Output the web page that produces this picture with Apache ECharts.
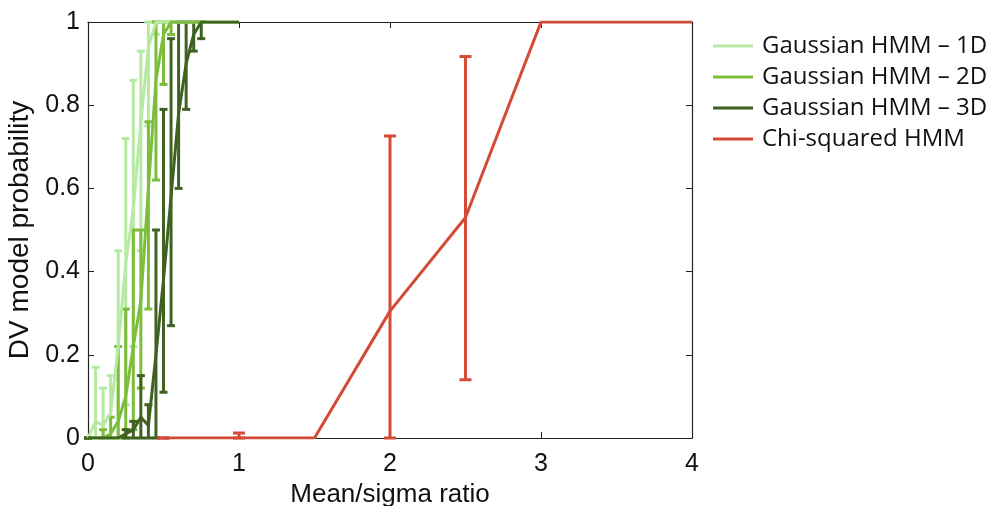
<!DOCTYPE html>
<html>
<head>
<meta charset="utf-8">
<script src="https://cdn.jsdelivr.net/npm/echarts@6/dist/echarts.min.js"></script>
<style>
  html, body { margin: 0; padding: 0; background: #fff; }
  #chart { width: 994px; height: 506px; }
</style>
</head>
<body>
<div id="chart"></div>
<script>
// ==============================
// 数据
// ==============================
const seriesNames = ['Gaussian HMM – 1D', 'Gaussian HMM – 2D', 'Gaussian HMM – 3D', 'Chi-squared HMM'];
const colors = ['#b6eaa3', '#7dbd3c', '#3f6121', '#d34b36'];

const xTicks = [0, 1, 2, 3, 4];
const yTicks = [0, 0.2, 0.4, 0.6, 0.8, 1];

const gaussX = [0, 0.05, 0.1, 0.15, 0.2, 0.25, 0.3, 0.35, 0.4, 0.45, 0.5, 0.55, 0.6, 0.65, 0.7, 0.75, 0.8, 0.9, 1.0];

const g1Mean = [0, 0.04, 0.03, 0.06, 0.22, 0.42, 0.55, 0.76, 0.94, 1, 1, 1, 1, 1, 1, 1, 1, 1, 1];
const g1Low  = [0, 0, 0, 0, 0, 0.08, 0.22, 0.45, 0.75, 0.97, 1, 1, 1, 1, 1, 1, 1, 1, 1];
const g1High = [0, 0.17, 0.12, 0.15, 0.45, 0.72, 0.86, 0.93, 1, 1, 1, 1, 1, 1, 1, 1, 1, 1, 1];

const g2Mean = [0, 0, 0, 0.01, 0.04, 0.1, 0.22, 0.33, 0.6, 0.86, 0.97, 1, 1, 1, 1, 1, 1, 1, 1];
const g2Low  = [0, 0, 0, 0, 0, 0, 0.02, 0.12, 0.31, 0.62, 0.85, 0.97, 1, 1, 1, 1, 1, 1, 1];
const g2High = [0, 0, 0.02, 0.05, 0.22, 0.31, 0.5, 0.5, 0.76, 1, 1, 1, 1, 1, 1, 1, 1, 1, 1];

const g3Mean = [0, 0, 0, 0, 0, 0.01, 0.02, 0.05, 0.03, 0.2, 0.38, 0.58, 0.78, 0.9, 0.97, 1, 1, 1, 1];
const g3Low  = [0, 0, 0, 0, 0, 0, 0, 0, 0, 0, 0.11, 0.27, 0.6, 0.79, 0.93, 0.96, 1, 1, 1];
const g3High = [0, 0, 0, 0, 0, 0.02, 0.04, 0.15, 0.08, 0.5, 0.79, 0.96, 1, 1, 1, 1, 1, 1, 1];

const chiX    = [0.5, 1, 1.5, 2, 2.5, 3, 3.5, 4];
const chiMean = [0, 0, 0, 0.305, 0.53, 1, 1, 1];
const chiLow  = [0, 0, 0, 0, 0.14, 1, 1, 1];
const chiHigh = [0, 0.012, 0, 0.726, 0.917, 1, 1, 1];

// ==============================
// 工具函数
// ==============================
function toPairs(xs, ys) {
  return xs.map((x, i) => [x, ys[i]]);
}

function toBars(xs, lows, highs) {
  return xs.map((x, i) => [x, lows[i], highs[i]]);
}

function errorBarSeries(name, data, color, capHalf, width) {
  return {
    name: name,
    type: 'custom',
    data: data,
    z: 3,
    encode: { x: 0, y: [1, 2] },
    renderItem: (params, api) => {
      const x = api.value(0);
      const low = api.value(1);
      const high = api.value(2);
      // 均值已经贴在 0 或 1 上时不画误差棒（第一个点除外）
      if (high === low && params.dataIndex > 0) return null;
      const lo = api.coord([x, low]);
      const hi = api.coord([x, high]);
      const style = { stroke: color, lineWidth: width };
      return {
        type: 'group',
        children: [
          { type: 'line', shape: { x1: lo[0], y1: lo[1], x2: hi[0], y2: hi[1] }, style },
          { type: 'line', shape: { x1: lo[0] - capHalf, y1: lo[1], x2: lo[0] + capHalf, y2: lo[1] }, style },
          { type: 'line', shape: { x1: hi[0] - capHalf, y1: hi[1], x2: hi[0] + capHalf, y2: hi[1] }, style }
        ]
      };
    }
  };
}

function lineSeries(name, data, color) {
  return {
    name: name,
    type: 'line',
    data: data,
    symbol: 'none',
    z: 3,
    lineStyle: { color: color, width: 3 },
    itemStyle: { color: color }
  };
}

// ==============================
// 图表
// ==============================
const chart = echarts.init(document.getElementById('chart'));

const font = 'Liberation Sans, Arial, sans-serif';
const axisBase = {
  min: 0,
  axisLine: { show: true, onZero: false, lineStyle: { color: '#222', width: 1.2 } },
  axisTick: { show: true, inside: true, length: 6, lineStyle: { color: '#222' } },
  splitLine: { show: false }
};

chart.setOption({
  animation: false,
  backgroundColor: '#fff',
  grid: { left: 88, right: 302, top: 22, bottom: 68, outerBoundsMode: 'none' },
  legend: {
    orient: 'vertical',
    left: 708,
    top: 27,
    itemWidth: 40,
    itemHeight: 3,
    itemGap: 3,
    icon: 'rect',
    data: seriesNames,
    textStyle: { fontFamily: 'Open Sans, sans-serif', fontSize: 24, lineHeight: 28, color: '#111', padding: [0, 0, 0, 4] }
  },
  xAxis: [
    Object.assign({}, axisBase, {
      type: 'value',
      max: 4,
      interval: 1,
      name: 'Mean/sigma ratio',
      nameLocation: 'middle',
      nameGap: 42,
      nameTextStyle: { fontFamily: font, fontSize: 26, color: '#111' },
      axisLabel: {
        margin: 14,
        fontFamily: font, fontSize: 25, color: '#111',
        formatter: v => xTicks.includes(v) ? String(v) : ''
      }
    }),
    Object.assign({}, axisBase, {
      type: 'value',
      position: 'top',
      max: 4,
      interval: 1,
      axisLabel: { show: false }
    })
  ],
  yAxis: [
    Object.assign({}, axisBase, {
      type: 'value',
      max: 1,
      interval: 0.2,
      name: 'DV model probability',
      nameLocation: 'middle',
      nameGap: 52,
      nameTextStyle: { fontFamily: font, fontSize: 28, color: '#111' },
      axisLabel: {
        margin: 8,
        fontFamily: font, fontSize: 25, color: '#111',
        formatter: v => yTicks.includes(Number(v.toFixed(1))) ? String(Number(v.toFixed(1))) : ''
      }
    }),
    Object.assign({}, axisBase, {
      type: 'value',
      position: 'right',
      max: 1,
      interval: 0.2,
      axisLabel: { show: false }
    })
  ],
  series: [
    lineSeries(seriesNames[0], toPairs(gaussX, g1Mean), colors[0]),
    errorBarSeries('err1', toBars(gaussX, g1Low, g1High), colors[0], 4, 3),
    lineSeries(seriesNames[1], toPairs(gaussX, g2Mean), colors[1]),
    errorBarSeries('err2', toBars(gaussX, g2Low, g2High), colors[1], 4, 3),
    lineSeries(seriesNames[2], toPairs(gaussX, g3Mean), colors[2]),
    errorBarSeries('err3', toBars(gaussX, g3Low, g3High), colors[2], 4, 3),
    lineSeries(seriesNames[3], toPairs(chiX, chiMean), colors[3]),
    errorBarSeries('err4', toBars(chiX, chiLow, chiHigh), colors[3], 6, 3)
  ]
});
</script>
</body>
</html>
